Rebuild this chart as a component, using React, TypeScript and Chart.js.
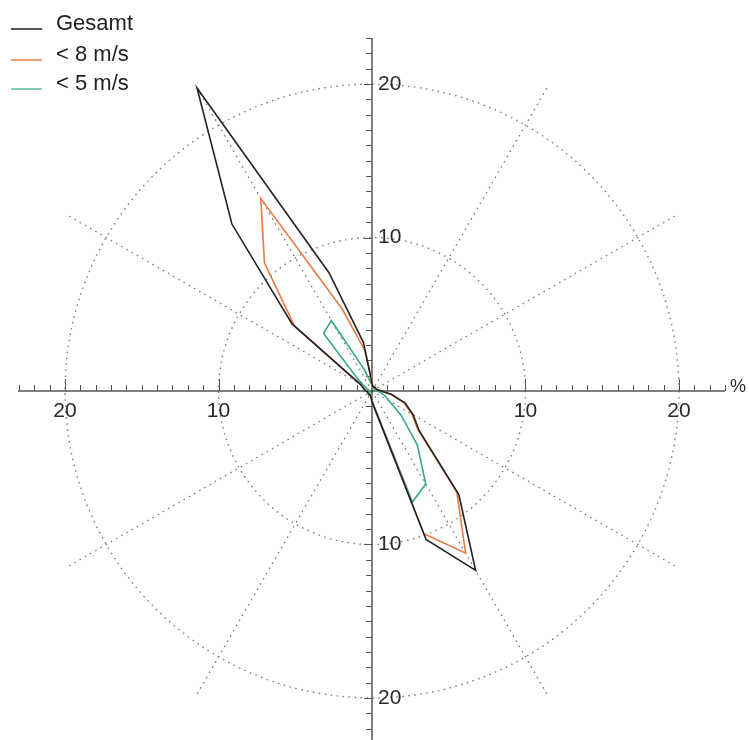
import React, { useEffect, useRef } from "react";
import { Chart, registerables } from "chart.js";

Chart.register(...registerables);

// Directions (degrees clockwise from north), 10° sectors
const directions = [
  "0", "10", "20", "30", "40", "50", "60", "70", "80",
  "90", "100", "110", "120", "130", "140", "150", "160", "170",
  "180", "190", "200", "210", "220", "230", "240", "250", "260",
  "270", "280", "290", "300", "310", "320", "330", "340", "350",
];

// Frequency in % per direction
const gesamt = [
  0.5, 0.3, 0.3, 0.3, 0.3, 0.3, 0.3, 0.3, 0.4,
  0.6, 1.3, 2.3, 3.1, 4.0, 8.8, 13.5, 10.3, 1.3,
  0.7, 0.4, 0.3, 0.3, 0.3, 0.3, 0.3, 0.3, 0.3,
  0.4, 0.5, 0.6, 0.9, 6.8, 14.2, 22.8, 8.2, 3.2,
];

const unter8 = [
  0.7, 0.3, 0.3, 0.3, 0.3, 0.3, 0.3, 0.3, 0.4,
  0.6, 1.3, 2.2, 3.0, 3.9, 8.6, 12.2, 9.9, 1.3,
  0.7, 0.4, 0.3, 0.3, 0.3, 0.3, 0.3, 0.3, 0.3,
  0.4, 0.5, 0.6, 0.9, 6.6, 10.9, 14.5, 5.7, 2.7,
];

const unter5 = [
  0.4, 0.2, 0.2, 0.2, 0.2, 0.2, 0.2, 0.2, 0.2,
  0.3, 0.6, 0.9, 1.3, 2.5, 4.6, 7.0, 7.7, 1.2,
  0.6, 0.3, 0.2, 0.2, 0.2, 0.2, 0.2, 0.2, 0.2,
  0.2, 0.2, 0.3, 0.5, 1.2, 4.9, 5.3, 1.5, 0.6,
];

const seriesNames = ["Gesamt", "< 8 m/s", "< 5 m/s"];
const seriesColors = ["#222222", "#e97a43", "#35aa85"];
const legendColors = ["#555555", "#f2a07a", "#7fcfb0"];

const axisLabels = [10, 20];
const axisMax = 23;
const unitLabel = "%";

const FONT = '"Liberation Sans", Arial, Helvetica, sans-serif';
const GRID_COLOR = "#808080";
const GRID_DASH = [1.6, 4.4];
const AXIS_COLOR = "#555555";
const TRANSPARENT = "rgba(0,0,0,0)";

const crossAxesPlugin = {
  id: "crossAxes",
  beforeDatasetsDraw(chart: any) {
    const r = chart.scales.r;
    const ctx: CanvasRenderingContext2D = chart.ctx;
    const cx = r.xCenter;
    const cy = r.yCenter;
    const ext = r.getDistanceFromCenterForValue(axisMax);
    ctx.save();
    ctx.strokeStyle = AXIS_COLOR;
    ctx.lineWidth = 1.5;
    ctx.beginPath();
    ctx.moveTo(cx - ext - 1, cy);
    ctx.lineTo(cx + ext, cy);
    ctx.moveTo(cx, cy - ext);
    ctx.lineTo(cx, cy + ext);
    ctx.stroke();

    ctx.lineWidth = 1;
    ctx.beginPath();
    for (let v = 1; v <= axisMax; v++) {
      const d = r.getDistanceFromCenterForValue(v);
      const major = axisLabels.includes(v);
      const hLen = major ? 12 : 6;
      const vLen = major ? 8 : 6;
      for (const s of [-1, 1]) {
        const x = Math.round(cx + s * d) + 0.5;
        ctx.moveTo(x, cy);
        ctx.lineTo(x, cy - hLen);
        const y = Math.round(cy + s * d) + 0.5;
        ctx.moveTo(cx, y);
        ctx.lineTo(cx - vLen, y);
      }
    }
    ctx.stroke();

    ctx.fillStyle = "#2a2a2a";
    ctx.font = `21px ${FONT}`;
    ctx.textBaseline = "middle";
    for (const v of axisLabels) {
      const d = r.getDistanceFromCenterForValue(v);
      ctx.textAlign = "center";
      ctx.fillText(String(v), cx - d, cy + 20);
      ctx.fillText(String(v), cx + d, cy + 20);
      ctx.textAlign = "left";
      ctx.fillText(String(v), cx + 6, cy - d);
      ctx.fillText(String(v), cx + 6, cy + d);
    }
    ctx.font = `18px ${FONT}`;
    ctx.textAlign = "left";
    ctx.textBaseline = "alphabetic";
    ctx.fillText(unitLabel, cx + ext + 5, cy + 1);
    ctx.restore();
  },
};

export default function App() {
  const canvasRef = useRef<HTMLCanvasElement | null>(null);

  useEffect(() => {
    const canvas = canvasRef.current;
    if (!canvas) return;
    const series = [gesamt, unter8, unter5];
    const chart = new Chart(canvas, {
      type: "radar",
      data: {
        labels: directions,
        datasets: series.map((data, i) => ({
          label: seriesNames[i],
          data,
          borderColor: seriesColors[i],
          backgroundColor: TRANSPARENT,
          borderWidth: 1.6,
          pointRadius: 0,
          pointHoverRadius: 0,
          fill: false,
          tension: 0,
        })),
      },
      options: {
        responsive: false,
        maintainAspectRatio: false,
        devicePixelRatio: 1,
        animation: false,
        layout: { padding: { left: 19, right: 24, top: 38, bottom: 16 } },
        plugins: {
          legend: { display: false },
          tooltip: { enabled: false },
        },
        elements: { line: { borderJoinStyle: "miter" } },
        scales: {
          r: {
            min: 0,
            max: axisMax,
            ticks: { display: false, stepSize: 10 },
            pointLabels: { display: false },
            grid: {
              circular: true,
              lineWidth: 1.4,
              color: (c: any) =>
                c.tick && axisLabels.includes(c.tick.value) ? GRID_COLOR : TRANSPARENT,
              borderDash: GRID_DASH,
            } as any,
            border: { dash: GRID_DASH } as any,
            angleLines: {
              lineWidth: 1.4,
              color: (c: any) =>
                c.index % 3 === 0 && c.index % 9 !== 0 ? GRID_COLOR : TRANSPARENT,
              borderDash: GRID_DASH,
            },
          },
        },
      },
      plugins: [crossAxesPlugin],
    });
    return () => chart.destroy();
  }, []);

  const legendTops = [12, 43, 72];
  const swatchTops = [28, 59, 88];

  return (
    <div
      style={{
        position: "fixed",
        left: 0,
        top: 0,
        width: 749,
        height: 740,
        overflow: "hidden",
        background: "#ffffff",
      }}
    >
      <canvas
        ref={canvasRef}
        width={749}
        height={760}
        style={{ position: "absolute", left: 0, top: 0, width: 749, height: 760, display: "block" }}
      />
      {seriesNames.map((name, i) => (
        <React.Fragment key={name}>
          <div
            style={{
              position: "absolute",
              left: 11,
              top: swatchTops[i],
              width: 31,
              height: 2,
              background: legendColors[i],
            }}
          />
          <div
            style={{
              position: "absolute",
              left: 56,
              top: legendTops[i],
              fontFamily: FONT,
              fontSize: 22,
              lineHeight: "22px",
              color: "#222",
              whiteSpace: "pre",
            }}
          >
            {name}
          </div>
        </React.Fragment>
      ))}
    </div>
  );
}
